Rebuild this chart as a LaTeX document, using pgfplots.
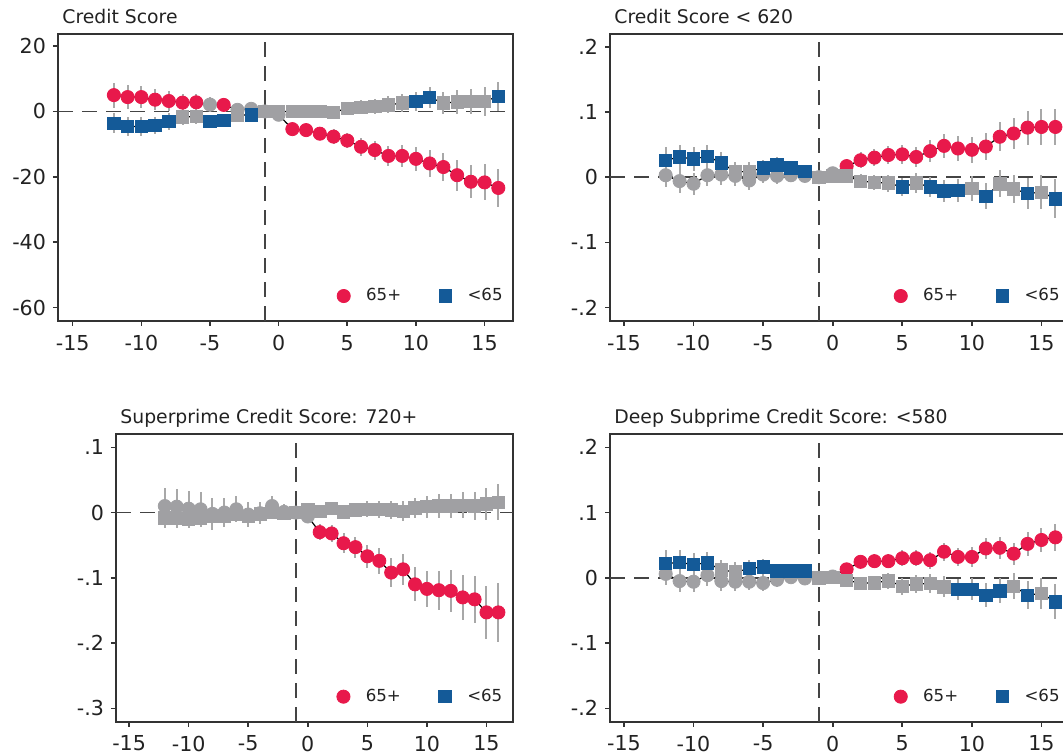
\documentclass[border=0pt]{standalone}
\usepackage{pgfplots}
\pgfplotsset{compat=1.18}
\usepackage{pgfplotstable}
\usepackage{fontspec}
\setmainfont{DejaVu Sans}
\definecolor{red65}{HTML}{E8194B}
\definecolor{blu}{HTML}{145A98}
\definecolor{grm}{HTML}{A0A0A3}
\definecolor{ebg}{HTML}{A8A8A8}
\definecolor{axc}{HTML}{333333}
\definecolor{tickc}{HTML}{222222}
\definecolor{dashc}{HTML}{444444}

% Panel A: Credit Score
\pgfplotstableread{
x y e s
-12 5.0 3.8 s
-11 4.4 3.6 s
-10 4.4 3.4 s
-9 3.6 3.2 s
-8 3.2 3.0 s
-7 2.7 2.6 s
-6 2.8 2.5 s
-5 2.1 2.4 g
-4 2.0 1.8 s
-3 0.5 1.6 g
-2 0.8 1.2 g
-1 0 0 g
0 -1.0 1.2 g
1 -5.4 1.4 s
2 -5.7 1.6 s
3 -6.8 1.9 s
4 -7.7 2.2 s
5 -8.9 2.4 s
6 -10.8 2.7 s
7 -11.8 2.9 s
8 -13.6 3.1 s
9 -13.6 3.4 s
10 -14.5 3.7 s
11 -15.9 4.0 s
12 -17.0 4.3 s
13 -19.5 4.7 s
14 -21.5 5.1 s
15 -21.7 5.5 s
16 -23.4 5.9 s
}\tAo
\pgfplotstableread{
x y e s
-12 -3.6 3.0 s
-11 -4.6 2.9 s
-10 -4.6 2.8 s
-9 -4.3 2.7 s
-8 -3.1 2.6 s
-7 -1.7 2.4 g
-6 -1.5 2.2 g
-5 -3.1 2.0 s
-4 -2.8 1.8 s
-3 -1.2 1.5 g
-2 -1.0 0.9 s
-1 0 0 g
0 0 1.0 g
1 0 1.2 g
2 0 1.4 g
3 0 1.6 g
4 -0.3 1.8 g
5 1.0 2.0 g
6 1.3 2.2 g
7 1.5 2.4 g
8 2.0 2.6 g
9 2.6 2.8 g
10 3.1 2.9 s
11 4.3 3.1 s
12 2.6 3.3 g
13 2.9 3.6 g
14 3.0 3.9 g
15 3.1 4.4 g
16 4.6 4.4 s
}\tAy

% Panel B: Credit Score < 620
\pgfplotstableread{
x y e s
-12 .003 .018 g
-11 -.006 .018 g
-10 -.010 .017 g
-9 .003 .017 g
-8 .004 .016 g
-7 .002 .015 g
-6 -.005 .014 g
-5 .004 .013 g
-4 .002 .012 g
-3 .003 .010 g
-2 .002 .008 g
-1 0 0 g
0 .006 .008 g
1 .017 .011 s
2 .026 .012 s
3 .030 .013 s
4 .034 .014 s
5 .035 .015 s
6 .031 .016 s
7 .040 .017 s
8 .048 .018 s
9 .044 .019 s
10 .042 .020 s
11 .047 .021 s
12 .062 .022 s
13 .067 .024 s
14 .076 .026 s
15 .077 .027 s
16 .077 .028 s
}\tBo
\pgfplotstableread{
x y e s
-12 .026 .020 s
-11 .031 .019 s
-10 .028 .018 s
-9 .032 .018 s
-8 .022 .017 s
-7 .008 .016 g
-6 .009 .015 g
-5 .014 .013 s
-4 .019 .012 s
-3 .014 .010 s
-2 .009 .008 s
-1 0 0 g
0 .002 .008 g
1 .002 .010 g
2 -.006 .011 g
3 -.008 .012 g
4 -.009 .013 g
5 -.015 .014 s
6 -.009 .015 g
7 -.015 .016 s
8 -.021 .017 s
9 -.020 .018 s
10 -.017 .019 g
11 -.029 .020 s
12 -.010 .021 g
13 -.018 .022 g
14 -.025 .024 s
15 -.023 .026 g
16 -.033 .030 s
}\tBy

% Panel C: Superprime 720+
\pgfplotstableread{
x y e s
-12 .010 .028 g
-11 .009 .027 g
-10 .006 .027 g
-9 .005 .026 g
-8 -.002 .024 g
-7 .000 .022 g
-6 .005 .020 g
-5 -.003 .019 g
-4 -.001 .017 g
-3 .010 .015 g
-2 .001 .012 g
-1 0 0 g
0 -.006 .010 g
1 -.030 .012 s
2 -.032 .013 s
3 -.047 .015 s
4 -.053 .016 s
5 -.067 .018 s
6 -.074 .020 s
7 -.092 .022 s
8 -.087 .024 s
9 -.110 .026 s
10 -.117 .028 s
11 -.119 .030 s
12 -.120 .032 s
13 -.130 .034 s
14 -.133 .036 s
15 -.153 .040 s
16 -.153 .045 s
}\tCo
\pgfplotstableread{
x y e s
-12 -.008 .015 g
-11 -.009 .015 g
-10 -.010 .014 g
-9 -.008 .014 g
-8 -.006 .013 g
-7 -.005 .012 g
-6 -.003 .011 g
-5 -.006 .010 g
-4 -.002 .009 g
-3 .000 .008 g
-2 -.001 .006 g
-1 0 0 g
0 .005 .006 g
1 .002 .008 g
2 .006 .009 g
3 .001 .010 g
4 .004 .011 g
5 .005 .012 g
6 .005 .013 g
7 .004 .014 g
8 .002 .015 g
9 .007 .016 g
10 .009 .017 g
11 .010 .018 g
12 .010 .019 g
13 .011 .020 g
14 .010 .022 g
15 .013 .025 g
16 .016 .028 g
}\tCy

% Panel D: Deep Subprime <580
\pgfplotstableread{
x y e s
-12 .006 .017 g
-11 -.005 .017 g
-10 -.006 .016 g
-9 .004 .016 g
-8 -.005 .015 g
-7 -.006 .014 g
-6 -.006 .013 g
-5 -.008 .012 g
-4 -.003 .011 g
-3 .001 .009 g
-2 -.001 .007 g
-1 0 0 g
0 .002 .007 g
1 .013 .009 s
2 .0245 .010 s
3 .0255 .011 s
4 .0255 .011 s
5 .030 .012 s
6 .030 .012 s
7 .027 .013 s
8 .040 .014 s
9 .032 .014 s
10 .032 .015 s
11 .045 .016 s
12 .046 .017 s
13 .037 .017 s
14 .052 .018 s
15 .058 .019 s
16 .062 .021 s
}\tDo
\pgfplotstableread{
x y e s
-12 .022 .020 s
-11 .0235 .019 s
-10 .0205 .018 s
-9 .023 .017 s
-8 .012 .016 g
-7 .009 .015 g
-6 .014 .013 s
-5 .017 .012 s
-4 .0107 .010 s
-3 .0107 .009 s
-2 .0107 .007 s
-1 0 0 g
0 .001 .007 g
1 -.0035 .009 g
2 -.0085 .010 g
3 -.0075 .011 g
4 -.0045 .012 g
5 -.0127 .013 g
6 -.0095 .014 g
7 -.0085 .015 g
8 -.0138 .016 g
9 -.0173 .016 s
10 -.0173 .017 s
11 -.0265 .018 s
12 -.020 .019 s
13 -.0127 .020 g
14 -.0265 .022 s
15 -.024 .024 g
16 -.0367 .027 s
}\tDy

\pgfplotsset{
  panel/.style={
    scale only axis,
    anchor=south west,
    xtick={-15,-10,-5,0,5,10,15},
    xticklabels={-15,-10,-5,0,5,10,15},
    tick align=outside, tick pos=left,
    major tick length=2.5pt,
    tick style={line width=0.8pt, color=axc},
    axis line style={line width=0.8pt, color=axc},
    ticklabel style={font=\fontsize{10.3}{12}\selectfont, text=tickc},
    xticklabel style={yshift=-1pt},
    title style={at={(0,1)}, anchor=base west, inner sep=0pt, xshift=2pt, yshift=-1pt, font=\fontsize{9.4}{11}\selectfont, text=tickc},
    legend image code/.code={\path (-9pt,0pt) (9pt,0pt); \draw[##1] plot coordinates {(0pt,0pt)};},
    legend style={draw=none, fill=none, at={(1.0,0.087)}, anchor=east, legend columns=2,
      font=\fontsize{8.3}{10}\selectfont, text=tickc,
      /tikz/every even column/.append style={column sep=10.8pt}},
  },
}
\newcommand{\refl}[4]{% xmin xmax ymin ymax
  \addplot[forget plot, color=dashc, line width=0.75pt, dash pattern=on 7.5pt off 4.5pt, mark=none] coordinates {(#1,0) (#2,0)};
  \addplot[forget plot, color=dashc, line width=0.75pt, dash pattern=on 7.5pt off 4.5pt, mark=none] coordinates {(-1,#3) (-1,#4)};
}
\newcommand{\ebars}[1]{\addplot[forget plot, only marks, mark=none, error bars/.cd, y dir=both, y explicit, error mark=none, error bar style={line width=1pt, color=ebg}] table[x=x,y=y,y error=e]{#1};}
\newcommand{\connline}[1]{\addplot[forget plot, color=black, line width=0.6pt, mark=none] table[x=x,y=y]{#1};}
\newcommand{\pmarks}[4]{\addplot[forget plot, scatter, only marks, scatter src=explicit symbolic,
  scatter/classes={s={mark=#2, mark size=#3, draw=#4, fill=#4}, g={mark=#2, mark size=#3, draw=grm, fill=grm}}]
  table[x=x,y=y,meta=s]{#1};}
\newcommand{\legs}{%
  \addlegendimage{only marks, mark=*, mark size=3.3pt, draw=red65, fill=red65}
  \addlegendentry{65+}
  \addlegendimage{only marks, mark=square*, mark size=3.1pt, draw=blu, fill=blu}
  \addlegendentry{<65}
}
\newcommand{\allseries}[2]{%
  \ebars{#1}\ebars{#2}\connline{#1}\connline{#2}
  \pmarks{#1}{*}{3.3pt}{red65}\pmarks{#2}{square*}{3.1pt}{blu}
}

\begin{document}
\begin{tikzpicture}
\path[use as bounding box] (0,0) rectangle (531.5pt,377pt);

% Panel A
\begin{axis}[panel, at={(29pt,216.5pt)}, width=227.5pt, height=143.5pt,
  xmin=-16.07, xmax=17.07, ymin=-64.1, ymax=23.7,
  ytick={-60,-40,-20,0,20}, yticklabels={-60,-40,-20,0,20},
  title={Credit Score}]
  \refl{-16.07}{17.07}{-64.1}{23.7}
  \allseries{\tAo}{\tAy}
  \legs
\end{axis}

% Panel B
\begin{axis}[panel, at={(305pt,216.5pt)}, width=230pt, height=143.5pt,
  xmin=-16.0, xmax=17.05, ymin=-0.2204, ymax=0.2195,
  ytick={-0.2,-0.1,0,0.1,0.2}, yticklabels={-.2,-.1,0,.1,.2},
  title={Credit Score < 620}]
  \refl{-16.0}{17.05}{-0.2204}{0.2195}
  \allseries{\tBo}{\tBy}
  \legs
\end{axis}

% Panel C
\begin{axis}[panel, at={(58pt,16.15pt)}, width=198.35pt, height=143.85pt,
  xmin=-16.1, xmax=17.2, ymin=-0.3205, ymax=0.1204,
  ytick={-0.3,-0.2,-0.1,0,0.1}, yticklabels={-.3,-.2,-.1,0,.1},
  title={Superprime Credit Score: 720+}]
  \refl{-16.1}{17.2}{-0.3205}{0.1204}
  \allseries{\tCo}{\tCy}
  \legs
\end{axis}

% Panel D
\begin{axis}[panel, at={(305pt,16.15pt)}, width=230pt, height=143.85pt,
  xmin=-16.0, xmax=17.05, ymin=-0.2205, ymax=0.2204,
  ytick={-0.2,-0.1,0,0.1,0.2}, yticklabels={-.2,-.1,0,.1,.2},
  title={Deep Subprime Credit Score: <580}]
  \refl{-16.0}{17.05}{-0.2205}{0.2204}
  \allseries{\tDo}{\tDy}
  \legs
\end{axis}
\end{tikzpicture}
\end{document}
